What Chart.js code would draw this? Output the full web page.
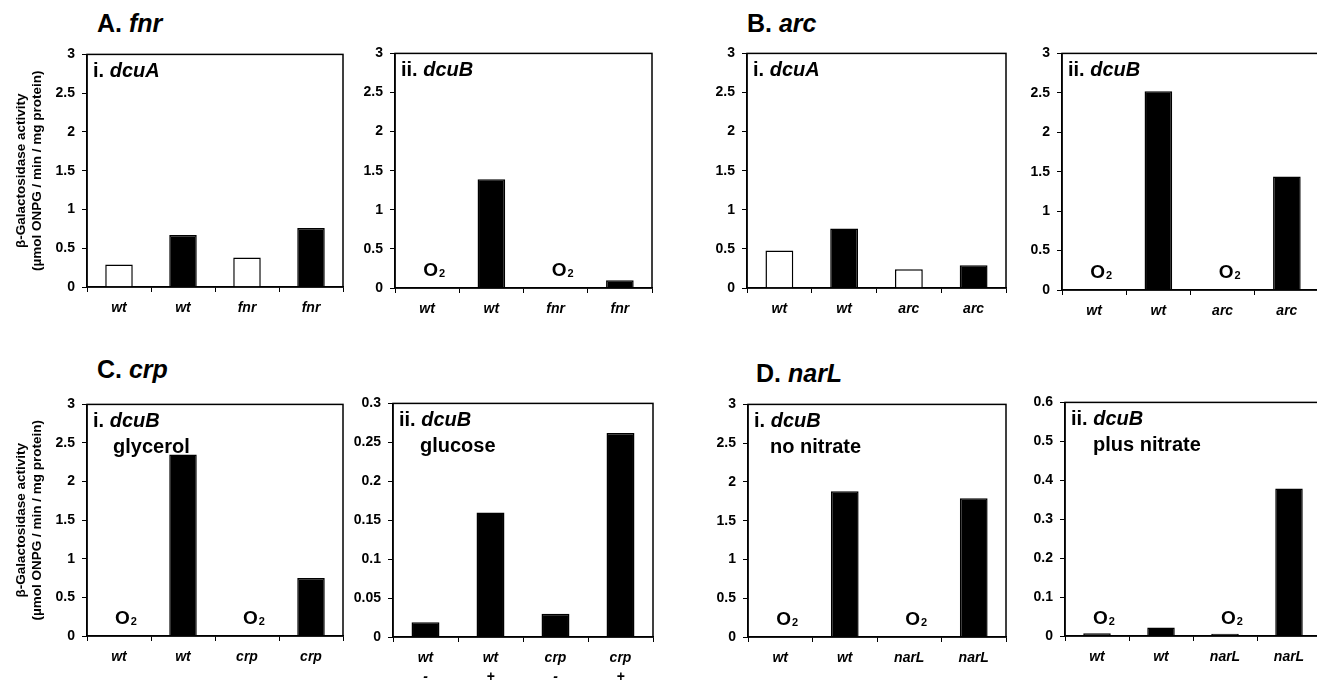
<!DOCTYPE html>
<html>
<head>
<meta charset="utf-8">
<script src="https://cdn.jsdelivr.net/npm/chart.js@4.4.1/dist/chart.umd.min.js"></script>
<style>
  html, body { margin: 0; padding: 0; background: #fff; overflow: hidden; width: 1317px; height: 684px; position: relative; }
  canvas { position: absolute; }
  .sect { position: absolute; font: bold 25px/25px "Liberation Sans", Arial, sans-serif; color: #000; white-space: nowrap; }
</style>
</head>
<body>
<div class="sect" style="left:97px;top:11px">A. <i>fnr</i></div>
<div class="sect" style="left:747px;top:11px">B. <i>arc</i></div>
<div class="sect" style="left:97px;top:357px">C. <i>crp</i></div>
<div class="sect" style="left:756px;top:361px">D. <i>narL</i></div>

<canvas id="aI"></canvas>
<canvas id="aII"></canvas>
<canvas id="bI"></canvas>
<canvas id="bII"></canvas>
<canvas id="cI"></canvas>
<canvas id="cII"></canvas>
<canvas id="dI"></canvas>
<canvas id="dII"></canvas>

<script>
// data
const fnrStrains = ['wt', 'wt', 'fnr', 'fnr'];
const arcStrains = ['wt', 'wt', 'arc', 'arc'];
const crpStrains = ['wt', 'wt', 'crp', 'crp'];
const narLStrains = ['wt', 'wt', 'narL', 'narL'];
const glucoseSigns = ['-', '+', '-', '+'];
const aerobic = [true, false, true, false];

const fnrDcuA = [0.29, 0.67, 0.38, 0.76];
const fnrDcuB = [0.01, 1.39, 0.01, 0.10];
const arcDcuA = [0.48, 0.76, 0.24, 0.29];
const arcDcuB = [0.01, 2.52, 0.01, 1.44];
const crpGlycerol = [0.01, 2.35, 0.01, 0.75];
const crpGlucose = [0.019, 0.16, 0.030, 0.262];
const narLNoNitrate = [0.01, 1.88, 0.01, 1.79];
const narLPlusNitrate = [0.007, 0.022, 0.006, 0.379];

const yTitle = ['\u03b2-Galactosidase activity', '(\u00b5mol ONPG / min / mg protein)'];
const FONT = '"Liberation Sans", Arial, sans-serif';

const panels = [
    { id: 'aI',  L: 87,   R: 343,  T: 51,  B: 287, yw: 87, labels: fnrStrains, values: fnrDcuA, max: 3, step: 0.5, open: true,  o2: false, head: ['i. ', 'dcuA'], sub: null, title: true },
    { id: 'aII', L: 395,  R: 652,  T: 50,  B: 288, yw: 55, labels: fnrStrains, values: fnrDcuB, max: 3, step: 0.5, open: false, o2: true,  head: ['ii. ', 'dcuB'], sub: null },
    { id: 'bI',  L: 747,  R: 1006, T: 50,  B: 288, yw: 55, labels: arcStrains, values: arcDcuA, max: 3, step: 0.5, open: true,  o2: false, head: ['i. ', 'dcuA'], sub: null },
    { id: 'bII', L: 1062, R: 1319, T: 50,  B: 290, yw: 55, labels: arcStrains, values: arcDcuB, max: 3, step: 0.5, open: false, o2: true,  head: ['ii. ', 'dcuB'], sub: null },
    { id: 'cI',  L: 87,   R: 343,  T: 401, B: 636, yw: 87, labels: crpStrains, values: crpGlycerol, max: 3, step: 0.5, open: false, o2: true, head: ['i. ', 'dcuB'], sub: ['glycerol', 26], title: true },
    { id: 'cII', L: 393,  R: 653,  T: 400, B: 637, yw: 55, labels: crpStrains.map((s, i) => [s, glucoseSigns[i]]), values: crpGlucose, max: 0.3, step: 0.05, open: false, o2: false, head: ['ii. ', 'dcuB'], sub: ['glucose', 27], xh: 50 },
    { id: 'dI',  L: 748,  R: 1006, T: 401, B: 637, yw: 55, labels: narLStrains, values: narLNoNitrate, max: 3, step: 0.5, open: false, o2: true, head: ['i. ', 'dcuB'], sub: ['no nitrate', 22] },
    { id: 'dII', L: 1065, R: 1321, T: 399, B: 636, yw: 55, labels: narLStrains, values: narLPlusNitrate, max: 0.6, step: 0.1, open: false, o2: true, head: ['ii. ', 'dcuB'], sub: ['plus nitrate', 28] }
];

const PAD_TOP = 12;
const PAD_RIGHT = 4;

function panelText(p) {
    return {
        id: 'panelText_' + p.id,
        afterDraw(chart) {
            const ctx = chart.ctx;
            const a = chart.chartArea;
            ctx.save();
            // box around the plot
            ctx.strokeStyle = '#000';
            ctx.lineWidth = 1.5;
            ctx.strokeRect(a.left, a.top, a.right - a.left, a.bottom - a.top);

            ctx.fillStyle = '#000';
            ctx.textBaseline = 'middle';
            ctx.textAlign = 'left';
            // "i. dcuA"
            let x = a.left + 6;
            const y = a.top + 17;
            ctx.font = 'bold 20px ' + FONT;
            ctx.fillText(p.head[0], x, y);
            x += ctx.measureText(p.head[0]).width;
            ctx.font = 'italic bold 20px ' + FONT;
            ctx.fillText(p.head[1], x, y);
            if (p.sub) {
                ctx.font = 'bold 20px ' + FONT;
                ctx.fillText(p.sub[0], a.left + p.sub[1], a.top + 43);
            }
            // O2 over the aerobic bars
            if (p.o2) {
                const xs = chart.scales.x, ys = chart.scales.y;
                aerobic.forEach((on, i) => {
                    if (!on) return;
                    const cx = xs.getPixelForValue(i) - 4;
                    const cy = ys.getPixelForValue(0) - 17;
                    ctx.font = 'bold 19px ' + FONT;
                    ctx.fillText('O', cx, cy);
                    const w = ctx.measureText('O').width;
                    ctx.font = 'bold 11px ' + FONT;
                    ctx.fillText('2', cx + w + 1, cy + 3);
                });
            }
            ctx.restore();
        }
    };
}

panels.forEach(p => {
    const xh = p.xh || 36;
    const cv = document.getElementById(p.id);
    const w = p.yw + (p.R - p.L) + PAD_RIGHT;
    const h = PAD_TOP + (p.B - p.T) + xh;
    cv.width = w;
    cv.height = h;
    cv.style.left = (p.L - p.yw) + 'px';
    cv.style.top = (p.T - PAD_TOP) + 'px';
    cv.style.width = w + 'px';
    cv.style.height = h + 'px';

    new Chart(cv, {
        type: 'bar',
        data: {
            labels: p.labels,
            datasets: [{
                data: p.values,
                backgroundColor: aerobic.map(a => (p.open && a) ? '#fff' : '#000'),
                borderColor: '#000',
                borderWidth: 1.5,
                categoryPercentage: 1,
                barPercentage: 0.43
            }]
        },
        options: {
            responsive: false,
            animation: false,
            layout: { padding: { top: PAD_TOP, right: PAD_RIGHT, left: 0, bottom: 0 } },
            plugins: {
                legend: { display: false },
                title: { display: false },
                tooltip: { enabled: false }
            },
            scales: {
                x: {
                    grid: { display: true, drawOnChartArea: false, drawTicks: true, tickLength: 5, color: '#000', lineWidth: 1, offset: true },
                    border: { display: true, color: '#000', width: 1.5 },
                    ticks: {
                        color: '#000',
                        padding: 7,
                        maxRotation: 0,
                        autoSkip: false,
                        font: { family: FONT, size: 14, weight: 'bold', style: 'italic', lineHeight: 1.36 }
                    },
                    afterFit(scale) { scale.height = xh; }
                },
                y: {
                    min: 0,
                    max: p.max,
                    grid: { display: true, drawOnChartArea: false, drawTicks: true, tickLength: 5, color: '#000', lineWidth: 1 },
                    border: { display: true, color: '#000', width: 1.5 },
                    ticks: {
                        stepSize: p.step,
                        color: '#000',
                        padding: 7,
                        font: { family: FONT, size: 14, weight: 'bold' },
                        callback: v => String(+v.toFixed(3))
                    },
                    title: {
                        display: !!p.title,
                        text: yTitle,
                        color: '#000',
                        padding: { top: 13, bottom: 0 },
                        font: { family: FONT, size: 13.5, weight: 'bold', lineHeight: 1.2 }
                    },
                    afterFit(scale) { scale.width = p.yw; }
                }
            }
        },
        plugins: [panelText(p)]
    });
});
</script>
</body>
</html>
